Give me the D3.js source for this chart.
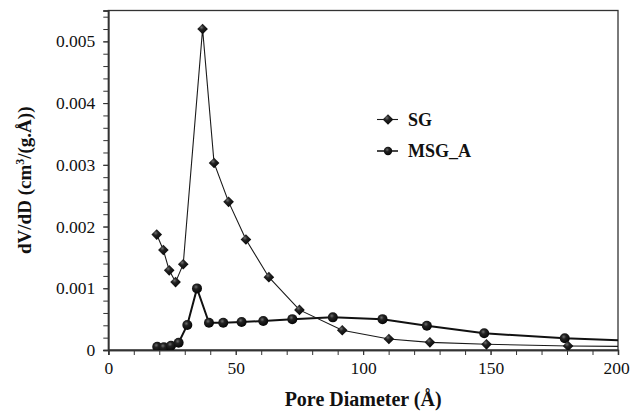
<!DOCTYPE html>
<html lang="en">
<head>
    <meta charset="UTF-8">
    <title>Pore size distribution</title>
    <style>
        body { margin: 0; background: #fff; }
        svg { display: block; }
        text { font-family: "Liberation Serif", "Times New Roman", serif; fill: #111; }
    </style>
</head>
<body>
    <div id="chart"></div>
    <script src="https://d3js.org/d3.v7.min.js"></script>
    <script>
        // pore diameter (Å) and dV/dD values
        const sgX = [19.0, 21.6, 23.9, 26.4, 29.4, 37.0, 41.5, 47.2, 54.0, 63.0, 75.0, 91.8, 110.1, 126.2, 148.4, 180.4, 230]
        const sgY = [0.00187, 0.00162, 0.00129, 0.00110, 0.00139, 0.00520, 0.00303, 0.00240, 0.00179, 0.00118, 0.00065, 0.00032, 0.000178, 0.000124, 0.000092, 0.000065, 0.00005]
        const msgX = [19.2, 21.8, 24.6, 27.6, 31.0, 34.8, 39.5, 45.1, 52.3, 60.8, 72.2, 88.1, 107.6, 125.0, 147.5, 179.1, 230]
        const msgY = [0.000053, 0.000044, 0.00007, 0.000118, 0.000405, 0.000998, 0.000442, 0.000442, 0.000455, 0.000469, 0.0005, 0.000529, 0.0005, 0.000394, 0.00027, 0.000189, 0.00011]
        const xTicks = [0, 50, 100, 150, 200]
        const yTicks = [0, 0.001, 0.002, 0.003, 0.004, 0.005]
        const seriesNames = ['SG', 'MSG_A']

        const width = 630
        const height = 412
        const margin = { top: 10.5, right: 12, bottom: 62, left: 108.3 }
        const serif = '"Liberation Serif", "Times New Roman", serif'

        const x = d3.scaleLinear().domain([0, 200]).range([margin.left, width - margin.right])
        const y = d3.scaleLinear().domain([0, 0.0055]).range([height - margin.bottom, margin.top])

        const svg = d3.select('#chart')
            .append('svg')
            .attr('width', width)
            .attr('height', height)

        const defs = svg.append('defs')
        const grad = defs.append('radialGradient')
            .attr('id', 'ball')
            .attr('cx', '40%').attr('cy', '35%').attr('r', '65%')
        grad.append('stop').attr('offset', '0%').attr('stop-color', '#6e6e6e')
        grad.append('stop').attr('offset', '35%').attr('stop-color', '#222')
        grad.append('stop').attr('offset', '100%').attr('stop-color', '#050505')

        defs.append('clipPath').attr('id', 'plot-clip')
            .append('rect')
            .attr('x', margin.left)
            .attr('y', margin.top)
            .attr('width', width - margin.left - margin.right)
            .attr('height', height - margin.top - margin.bottom)

        // frame
        svg.append('rect')
            .attr('x', margin.left)
            .attr('y', margin.top)
            .attr('width', width - margin.left - margin.right)
            .attr('height', height - margin.top - margin.bottom)
            .attr('fill', 'none')
            .attr('stroke', '#333')
            .attr('stroke-width', 1.3)

        // minor ticks
        const xAxisMinor = d3.axisBottom(x).tickValues(d3.range(0, 201, 10)).tickSize(5).tickFormat('')
        const yAxisMinor = d3.axisLeft(y).tickValues(d3.range(0, 0.00541, 0.0002)).tickSize(5).tickFormat('')
        svg.append('g').attr('transform', `translate(0,${y(0)})`).call(xAxisMinor)
        svg.append('g').attr('transform', `translate(${margin.left},0)`).call(yAxisMinor)

        const xAxis = d3.axisBottom(x).tickValues(xTicks).tickSize(5).tickPadding(7).tickFormat(d3.format('d'))
        const yAxis = d3.axisLeft(y).tickValues(yTicks).tickSize(5).tickPadding(8).tickFormat(d => d === 0 ? '0' : d3.format('.3f')(d))
        const gx = svg.append('g').attr('transform', `translate(0,${y(0)})`).call(xAxis)
        svg.append('g').attr('transform', `translate(${margin.left},0)`).call(yAxis)

        svg.selectAll('.domain').attr('stroke', '#333').attr('stroke-width', 1.3)
        svg.selectAll('.tick line').attr('stroke', '#333').attr('stroke-width', 1)
        svg.selectAll('g').attr('font-family', serif)
        svg.selectAll('.tick text')
            .attr('font-size', 17.5)
            .attr('fill', '#111')
        // keep the last x label inside the window
        gx.selectAll('.tick text').filter(d => d === 200).attr('dx', -2)

        // axis titles
        svg.append('text')
            .attr('x', (margin.left + width - margin.right) / 2)
            .attr('y', 406)
            .attr('text-anchor', 'middle')
            .attr('font-size', 20)
            .attr('font-weight', 'bold')
            .text('Pore Diameter (Å)')

        const yTitle = svg.append('text')
            .attr('transform', `translate(31,${(margin.top + height - margin.bottom) / 2}) rotate(-90)`)
            .attr('text-anchor', 'middle')
            .attr('font-size', 19)
            .attr('font-weight', 'bold')
        yTitle.append('tspan').text('dV/dD (cm')
        yTitle.append('tspan').attr('font-size', 12).attr('dy', -7).text('3')
        yTitle.append('tspan').attr('dy', 7).text('/(g.Å))')

        const line = d3.line().x(d => x(d[0])).y(d => y(d[1]))
        const sgData = sgX.map((v, i) => [v, sgY[i]])
        const msgData = msgX.map((v, i) => [v, msgY[i]])

        const plot = svg.append('g').attr('clip-path', 'url(#plot-clip)')

        plot.append('path')
            .datum(msgData)
            .attr('d', line)
            .attr('fill', 'none')
            .attr('stroke', '#111')
            .attr('stroke-width', 2)

        plot.append('path')
            .datum(sgData)
            .attr('d', line)
            .attr('fill', 'none')
            .attr('stroke', '#1a1a1a')
            .attr('stroke-width', 1.1)

        const diamond = d3.symbol().type(d3.symbolDiamond2).size(72)

        plot.selectAll('.msg')
            .data(msgData)
            .enter()
            .append('circle')
            .attr('class', 'msg')
            .attr('cx', d => x(d[0]))
            .attr('cy', d => y(d[1]))
            .attr('r', 5)
            .attr('fill', 'url(#ball)')

        plot.selectAll('.sg')
            .data(sgData)
            .enter()
            .append('path')
            .attr('class', 'sg')
            .attr('d', diamond)
            .attr('transform', d => `translate(${x(d[0])},${y(d[1])})`)
            .attr('fill', 'url(#ball)')

        // legend
        const legend = svg.append('g').attr('transform', 'translate(377,119.5)')
        seriesNames.forEach((name, i) => {
            const g = legend.append('g').attr('transform', `translate(0,${i * 31.5})`)
            g.append('line')
                .attr('x1', 0).attr('x2', 21)
                .attr('stroke', '#1a1a1a')
                .attr('stroke-width', i === 0 ? 1.1 : 1.6)
            if (i === 0) {
                g.append('path').attr('d', diamond).attr('transform', 'translate(11,0)').attr('fill', 'url(#ball)')
            } else {
                g.append('circle').attr('cx', 11).attr('r', 4.2).attr('fill', 'url(#ball)')
            }
            g.append('text')
                .attr('x', 31)
                .attr('y', 6)
                .attr('font-size', 18)
                .attr('font-weight', 'bold')
                .text(name)
        })
    </script>
</body>
</html>
